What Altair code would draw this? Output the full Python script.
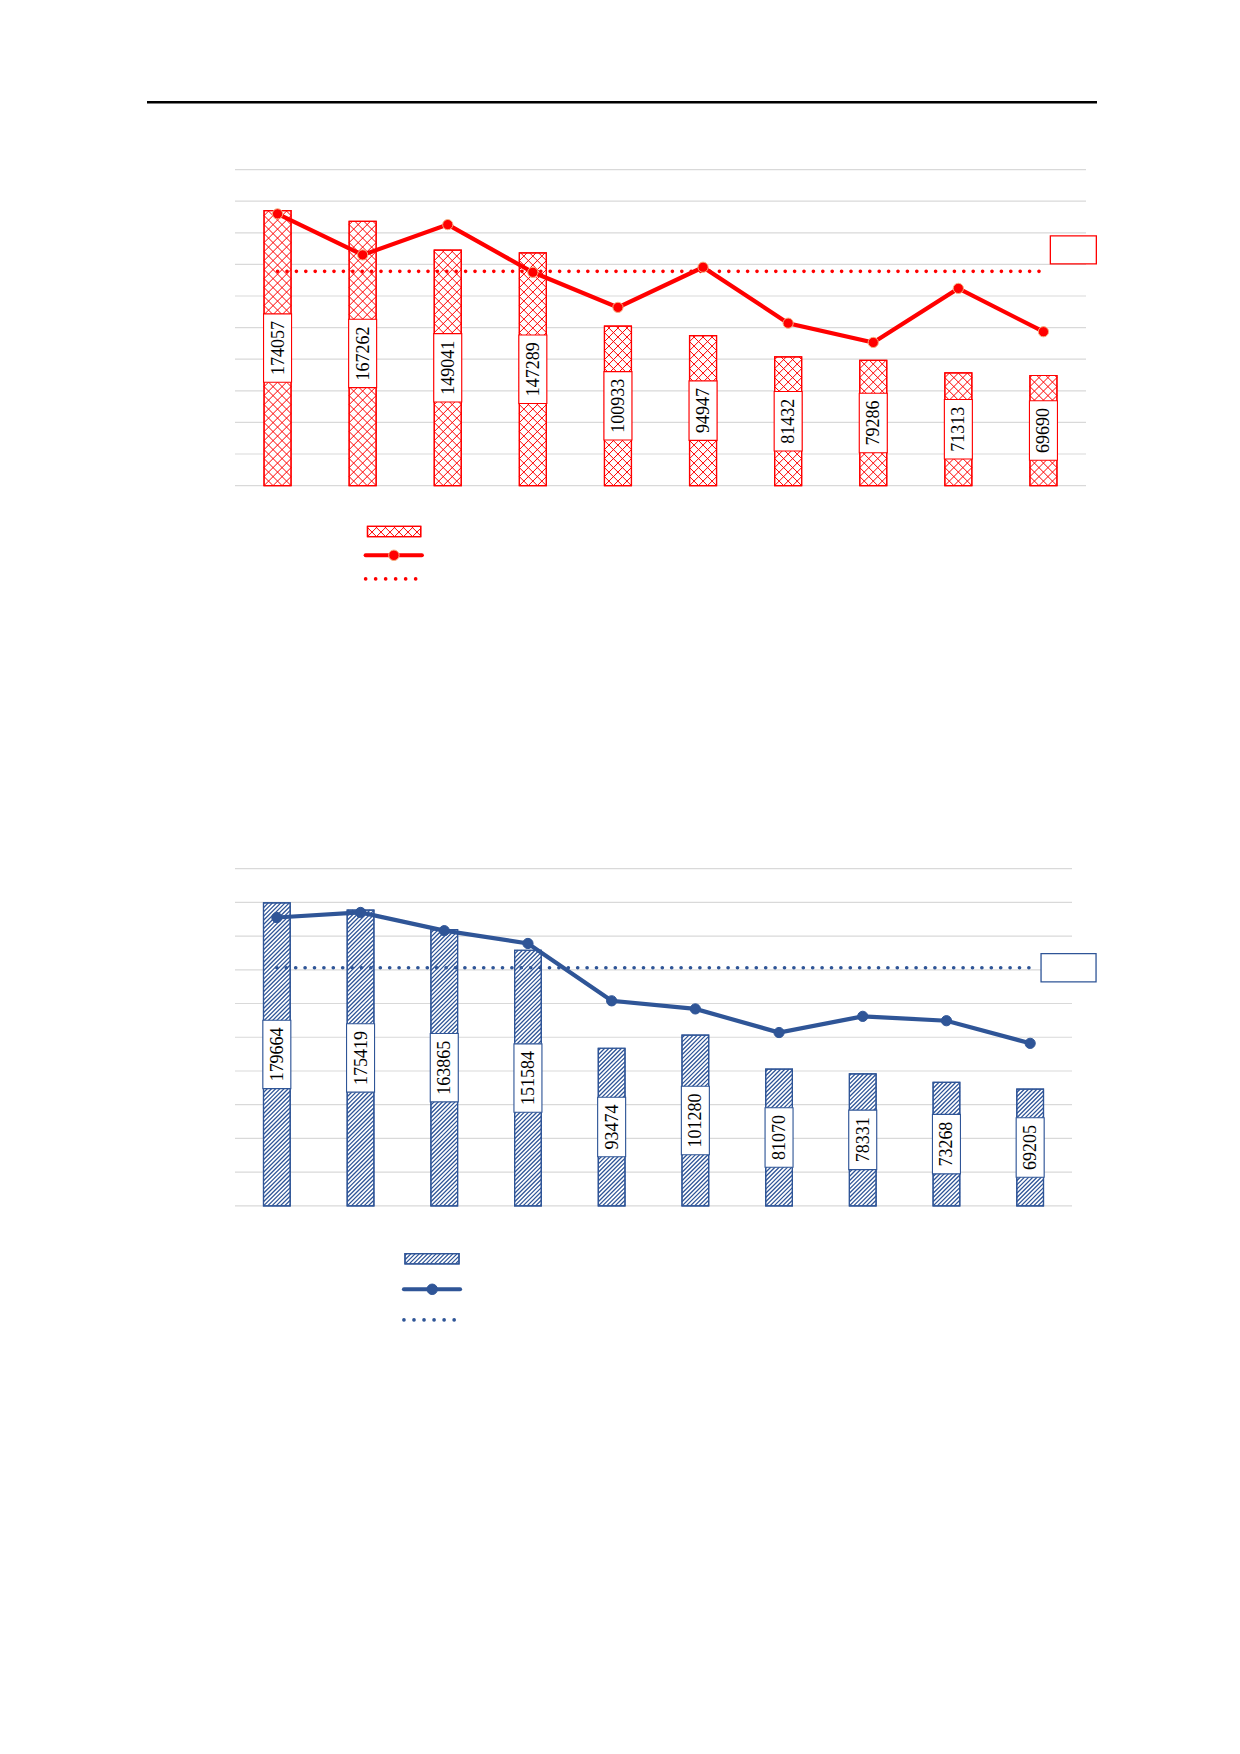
import math
import altair as alt

# ---------------- data ----------------
categories = ["1", "2", "3", "4", "5", "6", "7", "8", "9", "10"]

bars_top = [174057, 167262, 149041, 147289, 100933, 94947, 81432, 79286, 71313, 69690]
line_top = [8.60, 7.30, 8.26, 6.75, 5.64, 6.91, 5.14, 4.53, 6.24, 4.87]
avg_top = 6.78

bars_bottom = [179664, 175419, 163865, 151584, 93474, 101280, 81070, 78331, 73268, 69205]
line_bottom = [8.55, 8.70, 8.16, 7.78, 6.08, 5.84, 5.14, 5.62, 5.49, 4.82]
avg_bottom = 7.06

bar_max = 200000
bar_ticks = list(range(0, 200001, 20000))
line_max = 10

# ---------------- styles ----------------
RED = "#ff0000"
BLUE = "#2f5597"
ORANGE = "#f4b183"
GRID = "#d9d9d9"
FONT = "Liberation Serif"


def hatch_shape(W, H, period, directions):
    """Custom symbol path (unit box -1..1) with 45-degree hatch lines filling a W x H px box."""
    side = max(W, H)
    k = 2.0 / side
    hw, hh = W / 2.0, H / 2.0
    segs = []
    for d in directions:
        cmin, cmax = -(hw + hh), hw + hh
        c0 = (-hw + hh) if d == "/" else (hh + hw)
        n0 = math.ceil((cmin - c0) / period)
        n1 = math.floor((cmax - c0) / period)
        for n in range(n0, n1 + 1):
            c = c0 + n * period
            if d == "/":
                xa, xb = max(-hw, c - hh), min(hw, c + hh)
                ya, yb = c - xa, c - xb
            else:
                xa, xb = max(-hw, -hh - c), min(hw, hh - c)
                ya, yb = xa + c, xb + c
            if xb - xa > 0.05:
                segs.append(f"M{xa*k:.4f},{ya*k:.4f}L{xb*k:.4f},{yb*k:.4f}")
    return "".join(segs), side * side


def rect_shape(w, h):
    side = max(w, h)
    hx, hy = w / side, h / side
    path = f"M{-hx:.4f},{-hy:.4f}L{hx:.4f},{-hy:.4f}L{hx:.4f},{hy:.4f}L{-hx:.4f},{hy:.4f}Z"
    return path, side * side


LABEL_W = 28
box5_path, box5_size = rect_shape(LABEL_W, 59.5)
box6_path, box6_size = rect_shape(LABEL_W, 68.4)


def chart_panel(bars, line, avg, W, H, bar_w, color, hatch, marker_stroke,
                avg_box, avg_off, top_rule=False):
    period, dirs, hatch_w = hatch
    recs = []
    for c, v, l in zip(categories, bars, line):
        hpx = v / bar_max * H
        hp, hs = hatch_shape(bar_w, hpx, period, dirs)
        recs.append({"cat": c, "v": v, "mid": v / 2, "l": l, "avg": avg,
                     "label": str(v), "digits": str(len(str(v))),
                     "hpath": hp, "hsize": hs})
    data = alt.Data(values=recs)
    grid_data = alt.Data(values=[{"t": t} for t in bar_ticks])

    x = alt.X("cat:N", sort=categories,
              scale=alt.Scale(domain=categories, paddingInner=0, paddingOuter=0),
              axis=None)
    yscale = alt.Scale(domain=[0, bar_max], nice=False, zero=True)
    yb = alt.Y("v:Q", stack=None, title=None, scale=yscale, axis=None)
    ym = alt.Y("mid:Q", scale=yscale, axis=None)
    sec_scale = alt.Scale(domain=[0, line_max], nice=False, zero=True)

    base = alt.Chart(data)
    primary = alt.layer(
        alt.Chart(grid_data).mark_rule(color=GRID, strokeWidth=1.2)
        .encode(y=alt.Y("t:Q", scale=yscale, axis=None)),
        base.mark_bar(width=bar_w, fill="white", stroke=color, strokeWidth=1.2)
        .encode(x=x, y=yb),
        base.mark_point(filled=False, stroke=color, strokeWidth=hatch_w, opacity=1)
        .encode(x=x, y=ym,
                shape=alt.Shape("hpath:N", scale=None),
                size=alt.Size("hsize:Q", scale=None)),
        base.mark_bar(width=bar_w, fill="white", fillOpacity=0, stroke=color, strokeWidth=1.2)
        .encode(x=x, y=yb),
        base.mark_point(filled=True, fill="white", stroke=color, strokeWidth=1.1, opacity=1)
        .encode(
            x=x, y=ym,
            shape=alt.Shape("digits:N", scale=alt.Scale(domain=["5", "6"], range=[box5_path, box6_path]), legend=None),
            size=alt.Size("digits:O", scale=alt.Scale(domain=["5", "6"], range=[box5_size, box6_size]), legend=None),
        ),
        base.mark_text(angle=270, fontSize=18, font=FONT, color="black",
                       align="center", baseline="middle", dy=1)
        .encode(x=x, y=ym, text="label:N"),
    )

    ys = alt.Y("l:Q", scale=sec_scale, axis=None)
    ya = alt.Y("avg:Q", scale=sec_scale, axis=None)
    bw, bh = avg_box
    avg_path, avg_size = rect_shape(bw, bh)
    secondary = alt.layer(
        base.mark_line(color=color, strokeWidth=3.6, strokeDash=[0.1, 9.3], strokeCap="round")
        .encode(x=x, y=ya),
        base.mark_line(color=color, strokeWidth=4.2).encode(x=x, y=ys),
        base.mark_point(shape="circle", filled=True, fill=color, stroke=marker_stroke,
                        strokeWidth=1, size=105, opacity=1).encode(x=x, y=ys),
        base.mark_point(shape=avg_path, size=avg_size, filled=True, fill="white",
                        stroke=color, strokeWidth=1.3, opacity=1,
                        xOffset=avg_off[0], yOffset=avg_off[1])
        .encode(x=x, y=ya)
        .transform_filter(alt.datum.cat == categories[-1]),
    )
    layers = [primary, secondary]
    if top_rule:
        layers.append(
            alt.Chart(alt.Data(values=[{}])).mark_rule(color="black", strokeWidth=2.4)
            .encode(x=alt.value(-88), x2=alt.value(862), y=alt.value(-67.3))
        )
    return alt.layer(*layers).resolve_scale(y="independent").properties(width=W, height=H)


def legend_panel(W, H, color, hatch, marker_stroke, swatch, line_item, dot_item, dot_gap):
    period, dirs, hatch_w = hatch
    sw_w = swatch[1] - swatch[0]
    sw_h = swatch[3] - swatch[2]
    hp, hs = hatch_shape(sw_w, sw_h, period, dirs)
    base = alt.Chart(alt.Data(values=[{"hpath": hp, "hsize": hs}]))
    cx = (swatch[0] + swatch[1]) / 2
    cy = (swatch[2] + swatch[3]) / 2
    layers = [
        base.mark_rect(fill="white", stroke=color, strokeWidth=1.3).encode(
            x=alt.value(swatch[0]), x2=alt.value(swatch[1]),
            y=alt.value(swatch[2]), y2=alt.value(swatch[3])),
        base.mark_point(filled=False, stroke=color, strokeWidth=hatch_w, opacity=1).encode(
            x=alt.value(cx), y=alt.value(cy),
            shape=alt.Shape("hpath:N", scale=None),
            size=alt.Size("hsize:Q", scale=None)),
        base.mark_rect(fill="white", fillOpacity=0, stroke=color, strokeWidth=1.3).encode(
            x=alt.value(swatch[0]), x2=alt.value(swatch[1]),
            y=alt.value(swatch[2]), y2=alt.value(swatch[3])),
        base.mark_rule(color=color, strokeWidth=4, strokeCap="round").encode(
            x=alt.value(line_item[0]), x2=alt.value(line_item[1]), y=alt.value(line_item[2])),
        base.mark_point(shape="circle", filled=True, fill=color, stroke=marker_stroke,
                        strokeWidth=1, size=110, opacity=1).encode(
            x=alt.value(line_item[3]), y=alt.value(line_item[2])),
        base.mark_rule(color=color, strokeWidth=3.6, strokeCap="round",
                       strokeDash=[0.1, dot_gap]).encode(
            x=alt.value(dot_item[0]), x2=alt.value(dot_item[1]), y=alt.value(dot_item[2])),
    ]
    return alt.layer(*layers).properties(width=W, height=H)


red_hatch = (9.0, ["/", "\\"], 1.0)
blue_hatch = (4.2, ["/"], 1.3)

top_chart = chart_panel(bars_top, line_top, avg_top, 851, 316, 27, RED, red_hatch, ORANGE,
                        (46, 28), (29.9, -21.5), top_rule=True)
top_legend = legend_panel(851, 382.7, RED, red_hatch, ORANGE,
                          (132.5, 185.7, 40.7, 51), (130.6, 186.9, 69.7, 158.9),
                          (130.6, 181.8, 93.3), 9.9)
bottom_chart = chart_panel(bars_bottom, line_bottom, avg_bottom, 837, 337.3, 26.7, BLUE,
                           blue_hatch, BLUE, (55, 28.3), (38.4, 0))
bottom_legend = legend_panel(851, 150, BLUE, blue_hatch, BLUE,
                             (170, 224, 47, 57.3), (168.9, 225.1, 82.7, 197.2),
                             (168.9, 220.2, 113.3), 9.94)

chart = alt.vconcat(top_chart, top_legend, bottom_chart, bottom_legend,
                    spacing=0, bounds="flush").properties(
    padding={"left": 137, "top": 92.6, "right": 10, "bottom": 10},
    background="white",
).configure_view(strokeWidth=0)

chart.save("out.html", embed_options={"renderer": "svg", "actions": False})
